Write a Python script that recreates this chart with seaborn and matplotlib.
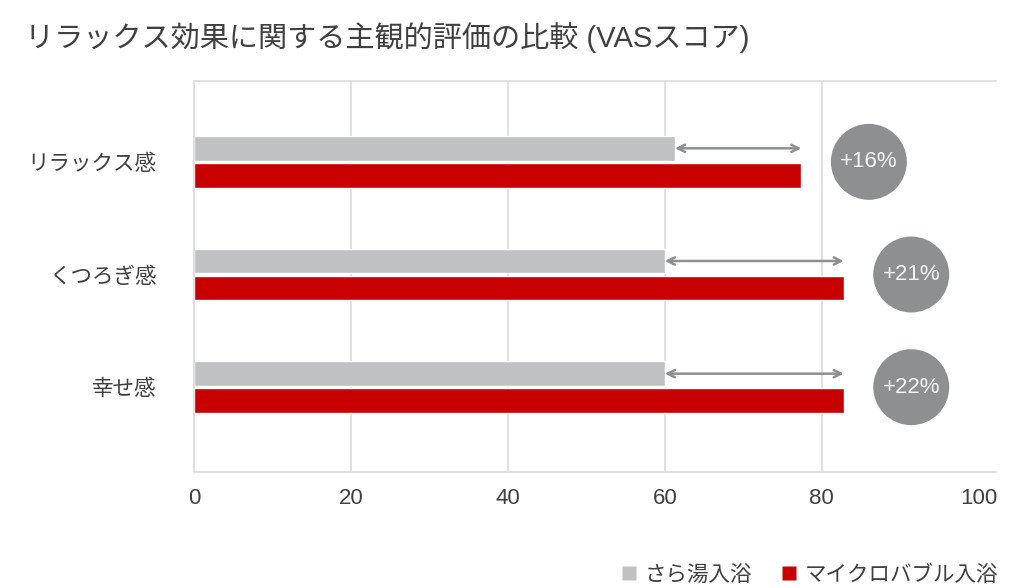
import pandas as pd
import seaborn as sns
import matplotlib.pyplot as plt
from matplotlib.lines import Line2D

# data
items = ['リラックス感', 'くつろぎ感', '幸せ感']
plain_bath = [61.3, 60.0, 60.0]        # さら湯入浴
microbubble_bath = [77.4, 82.8, 82.8]  # マイクロバブル入浴
increase_labels = ['+16%', '+21%', '+22%']
conditions = ['さら湯入浴', 'マイクロバブル入浴']
x_ticks = [0, 20, 40, 60, 80, 100]

# long-form table for seaborn
df = pd.DataFrame({
    'item': items * 2,
    'score': plain_bath + microbubble_bath,
    'condition': [conditions[0]] * len(items) + [conditions[1]] * len(items),
})

GRAY = '#c0c1c3'
RED = '#c80000'
CIRCLE = '#8e8f91'
TEXT = '#404040'
GRID = '#dcdcdc'

sns.set_theme(style='white')
plt.rcParams['font.family'] = ['Liberation Sans', 'Noto Sans CJK JP', 'DejaVu Sans']

fig = plt.figure(figsize=(10.24, 5.88), dpi=100)
ax = fig.add_axes([194 / 1024, 1 - 471.7 / 588, (996 - 194) / 1024, (471.7 - 80.7) / 588])

sns.barplot(data=df, y='item', x='score', hue='condition', order=items,
            hue_order=conditions, palette=[GRAY, RED], saturation=1, orient='h',
            width=0.48, gap=0.08, legend=False, ax=ax, zorder=2)

ax.set_xlim(0, 102.2)
ax.set_ylim(2.75, -0.72)
ax.set_xlabel('')
ax.set_ylabel('')
ax.set_xticks(x_ticks)
ax.tick_params(axis='x', length=0, pad=12, labelsize=16, labelcolor=TEXT)
ax.tick_params(axis='y', length=0, pad=27, labelsize=15.5, labelcolor=TEXT)

ax.xaxis.grid(True, color=GRID, lw=1.2, zorder=0)
ax.set_axisbelow(True)
ax.xaxis.get_gridlines()[-1].set_visible(False)
for side in ['left', 'bottom', 'top']:
    ax.spines[side].set_color(GRID)
    ax.spines[side].set_linewidth(1.2)
ax.spines['right'].set_visible(False)

# arrows between the bars and circled increase labels
gray_bars = ax.containers[0]
red_bars = ax.containers[1]
for i, (gb, rb) in enumerate(zip(gray_bars, red_bars)):
    yg = gb.get_y() + gb.get_height() / 2
    ax.annotate('', xy=(rb.get_width(), yg), xytext=(gb.get_width(), yg),
                arrowprops=dict(arrowstyle='<->', color=CIRCLE, lw=1.8,
                                mutation_scale=13, shrinkA=0, shrinkB=0),
                zorder=3)
    cx = rb.get_width() + 8.6
    ax.scatter([cx], [i], s=2990, color=CIRCLE, edgecolors='none',
               zorder=3, clip_on=False)
    ax.text(cx, i, increase_labels[i], color='#f4f4f4', fontsize=16,
            ha='center', va='center', zorder=4)

fig.text(25 / 1024, 1 - 38 / 588, 'リラックス効果に関する主観的評価の比較 (VASスコア)',
         fontsize=21, color=TEXT, ha='left', va='center')

handles = [Line2D([], [], marker='s', linestyle='none', markersize=9.5,
                  markerfacecolor=c, markeredgecolor='none') for c in [GRAY, RED]]
fig.legend(handles, conditions, loc='center right', bbox_to_anchor=(0.985, 0.022),
           ncol=2, frameon=False, fontsize=15.5, handlelength=0.7,
           handletextpad=0.35, columnspacing=1.4, borderpad=0, labelcolor=TEXT)

fig.savefig('out.png', dpi=100)
